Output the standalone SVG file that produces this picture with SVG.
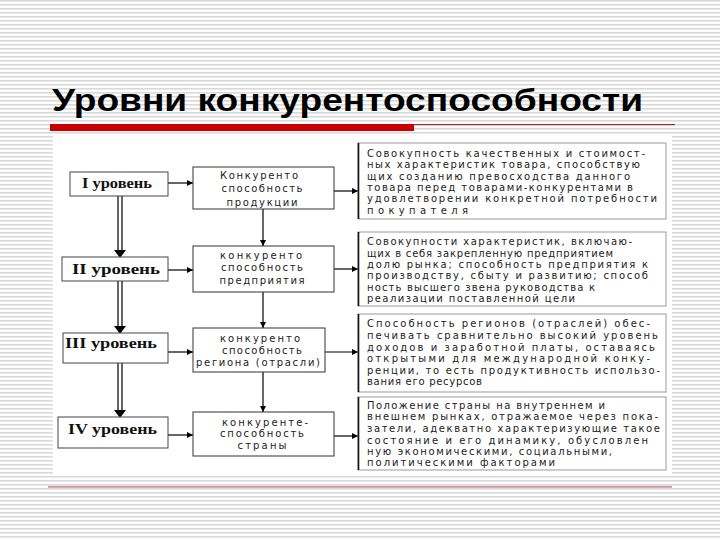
<svg xmlns="http://www.w3.org/2000/svg" width="720" height="540" viewBox="0 0 720 540">
<defs>
<pattern id="stripes" x="0" y="0" width="8" height="4" patternUnits="userSpaceOnUse">
<rect width="8" height="4" fill="#ffffff"/>
<rect y="0" width="8" height="1.6" fill="#d9d9d9"/>
</pattern>
<marker id="ah" viewBox="0 0 10 10" refX="10" refY="5" markerWidth="7" markerHeight="6" orient="auto" markerUnits="userSpaceOnUse">
<path d="M0,0 L10,5 L0,10 z" fill="#000"/>
</marker>
<style>
.lvl{fill:#fff;stroke:#444;stroke-width:1}
.mid{fill:#fff;stroke:#333;stroke-width:1}
.desc{fill:#fff;stroke:#999;stroke-width:1}
.descl{stroke:#111;stroke-width:1.6}
.lt{font-family:"Liberation Serif","DejaVu Serif",serif;font-weight:bold;font-size:14px;fill:#111}
.mt{font-family:"DejaVu Sans","Liberation Sans",sans-serif;font-size:10px;fill:#222;text-anchor:middle}
.dt{font-family:"DejaVu Sans","Liberation Sans",sans-serif;font-size:10px;fill:#222}
.con{stroke:#000;stroke-width:1.2;fill:none}
.dbl{stroke:#000;stroke-width:1.2;fill:none}
</style>
</defs>
<rect width="720" height="540" fill="url(#stripes)"/>
<rect x="53" y="136" width="619" height="340" fill="#fff"/>
<g id="title">
<text x="52" y="111" font-family="Liberation Sans, Arial, sans-serif" font-weight="bold" font-size="32" fill="#000" textLength="591" lengthAdjust="spacingAndGlyphs">Уровни конкурентоспособности</text>
<rect x="50" y="124" width="364" height="7" fill="#c80000"/>
<line x1="414" y1="124.5" x2="675" y2="124.5" stroke="#a02828" stroke-width="1"/>
<line x1="414" y1="125.5" x2="675" y2="125.5" stroke="#f0c8c8" stroke-width="1"/>
</g>
<g id="footer-line">
<line x1="48" y1="487" x2="672" y2="487" stroke="#8a2a2a" stroke-width="1"/>
<line x1="48" y1="488" x2="672" y2="488" stroke="#f0c8c8" stroke-width="1"/>
</g>

<g id="connectors">
<path class="dbl" d="M118,196 V251 M122,196 V251"/>
<polygon points="114,250 126,250 120,258" fill="#000"/>
<path class="dbl" d="M118,281 V327 M122,281 V327"/>
<polygon points="114,326 126,326 120,334" fill="#000"/>
<path class="dbl" d="M118,363 V411 M122,363 V411"/>
<polygon points="114,410 126,410 120,418" fill="#000"/>
<line class="con" x1="168" y1="183" x2="193" y2="183" marker-end="url(#ah)"/>
<line class="con" x1="168" y1="270" x2="193" y2="270" marker-end="url(#ah)"/>
<line class="con" x1="168" y1="352" x2="193" y2="352" stroke-width="2.2" marker-end="url(#ah)"/>
<line class="con" x1="168" y1="435" x2="193" y2="435" marker-end="url(#ah)"/>
<line class="con" x1="334" y1="191" x2="358" y2="191" marker-end="url(#ah)"/>
<line class="con" x1="334" y1="269" x2="358" y2="269" marker-end="url(#ah)"/>
<line class="con" x1="325" y1="352" x2="358" y2="352" marker-end="url(#ah)"/>
<line class="con" x1="334" y1="436" x2="358" y2="436" marker-end="url(#ah)"/>
<line class="con" x1="263" y1="209" x2="263" y2="246" marker-end="url(#ah)"/>
<line class="con" x1="263" y1="292" x2="263" y2="328" marker-end="url(#ah)"/>
<line class="con" x1="263" y1="372" x2="263" y2="412" marker-end="url(#ah)"/>
</g>

<g id="level1">
<rect class="lvl" x="70" y="172" width="98" height="24"/>
<text class="lt" x="82" y="188" textLength="70" lengthAdjust="spacingAndGlyphs">I уровень</text>
</g>
<g id="level2">
<rect class="lvl" x="62" y="257" width="106" height="24"/>
<text class="lt" x="72" y="274" textLength="88" lengthAdjust="spacingAndGlyphs">II уровень</text>
</g>
<g id="level3">
<rect class="lvl" x="63" y="333" width="105" height="30"/>
<text class="lt" x="65" y="348" textLength="92" lengthAdjust="spacingAndGlyphs">III уровень</text>
</g>
<g id="level4">
<rect class="lvl" x="58" y="417" width="110" height="31"/>
<text class="lt" x="68" y="434" textLength="89" lengthAdjust="spacingAndGlyphs">IV уровень</text>
</g>

<g id="mid1">
<rect class="mid" x="193" y="167" width="141" height="42"/>
<text class="mt" x="259" y="179" textLength="78" lengthAdjust="spacing">Конкуренто</text>
<text class="mt" x="262" y="192" textLength="81" lengthAdjust="spacing">способность</text>
<text class="mt" x="262" y="206" textLength="71" lengthAdjust="spacing">продукции</text>
</g>
<g id="mid2">
<rect class="mid" x="193" y="246" width="141" height="46"/>
<text class="mt" x="261" y="259" textLength="82" lengthAdjust="spacing">конкуренто</text>
<text class="mt" x="262" y="271" textLength="82" lengthAdjust="spacing">способность</text>
<text class="mt" x="262" y="284" textLength="85" lengthAdjust="spacing">предприятия</text>
</g>
<g id="mid3">
<rect class="mid" x="193" y="328" width="132" height="44"/>
<text class="mt" x="260" y="342" textLength="80" lengthAdjust="spacing">конкуренто</text>
<text class="mt" x="262" y="354" textLength="80" lengthAdjust="spacing">способность</text>
<text class="mt" x="258" y="366" textLength="124" lengthAdjust="spacing">региона (отрасли)</text>
</g>
<g id="mid4">
<rect class="mid" x="193" y="412" width="141" height="44"/>
<text class="mt" x="265" y="426" textLength="86" lengthAdjust="spacing">конкуренте-</text>
<text class="mt" x="262" y="437" textLength="84" lengthAdjust="spacing">способность</text>
<text class="mt" x="262" y="449" textLength="49" lengthAdjust="spacing">страны</text>
</g>

<g id="desc1">
<rect class="desc" x="358" y="143" width="308" height="76"/>
<line class="descl" x1="358.5" y1="143" x2="358.5" y2="219"/>
<text class="dt" x="367" y="157" textLength="278" lengthAdjust="spacing">Совокупность качественных и стоимост-</text>
<text class="dt" x="367" y="168" textLength="273" lengthAdjust="spacing">ных характеристик товара, способствую</text>
<text class="dt" x="367" y="180" textLength="263" lengthAdjust="spacing">щих созданию превосходства данного</text>
<text class="dt" x="367" y="191" textLength="266" lengthAdjust="spacing">товара перед товарами-конкурентами в</text>
<text class="dt" x="367" y="202" textLength="290" lengthAdjust="spacing">удовлетворении конкретной потребности</text>
<text class="dt" x="367" y="214" textLength="101" lengthAdjust="spacing">покупателя</text>
</g>
<g id="desc2">
<rect class="desc" x="358" y="232" width="308" height="74"/>
<line class="descl" x1="358.5" y1="232" x2="358.5" y2="306"/>
<text class="dt" x="367" y="245" textLength="265" lengthAdjust="spacing">Совокупности характеристик, включаю-</text>
<text class="dt" x="367" y="257" textLength="246" lengthAdjust="spacing">щих в себя закрепленную предприятием</text>
<text class="dt" x="367" y="268" textLength="281" lengthAdjust="spacing">долю рынка; способность предприятия к</text>
<text class="dt" x="367" y="279" textLength="281" lengthAdjust="spacing">производству, сбыту и развитию; способ</text>
<text class="dt" x="367" y="291" textLength="228" lengthAdjust="spacing">ность высшего звена руководства к</text>
<text class="dt" x="367" y="302" textLength="208" lengthAdjust="spacing">реализации поставленной цели</text>
</g>
<g id="desc3">
<rect class="desc" x="358" y="314" width="308" height="78"/>
<line class="descl" x1="358.5" y1="314" x2="358.5" y2="392"/>
<text class="dt" x="367" y="327" textLength="283" lengthAdjust="spacing">Способность регионов (отраслей) обес-</text>
<text class="dt" x="367" y="339" textLength="291" lengthAdjust="spacing">печивать сравнительно высокий уровень</text>
<text class="dt" x="367" y="351" textLength="288" lengthAdjust="spacing">доходов и заработной платы, оставаясь</text>
<text class="dt" x="367" y="362" textLength="283" lengthAdjust="spacing">открытыми для международной конку-</text>
<text class="dt" x="367" y="374" textLength="293" lengthAdjust="spacing">ренции, то есть продуктивность использо-</text>
<text class="dt" x="367" y="385" textLength="115" lengthAdjust="spacing">вания его ресурсов</text>
</g>
<g id="desc4">
<rect class="desc" x="358" y="397" width="308" height="73"/>
<line class="descl" x1="358.5" y1="397" x2="358.5" y2="470"/>
<text class="dt" x="367" y="409" textLength="238" lengthAdjust="spacing">Положение страны на внутреннем и</text>
<text class="dt" x="367" y="420" textLength="291" lengthAdjust="spacing">внешнем рынках, отражаемое через пока-</text>
<text class="dt" x="367" y="432" textLength="293" lengthAdjust="spacing">затели, адекватно характеризующие такое</text>
<text class="dt" x="367" y="444" textLength="281" lengthAdjust="spacing">состояние и его динамику, обусловлен</text>
<text class="dt" x="367" y="455" textLength="245" lengthAdjust="spacing">ную экономическими, социальными,</text>
<text class="dt" x="367" y="466" textLength="188" lengthAdjust="spacing">политическими факторами</text>
</g>
</svg>
